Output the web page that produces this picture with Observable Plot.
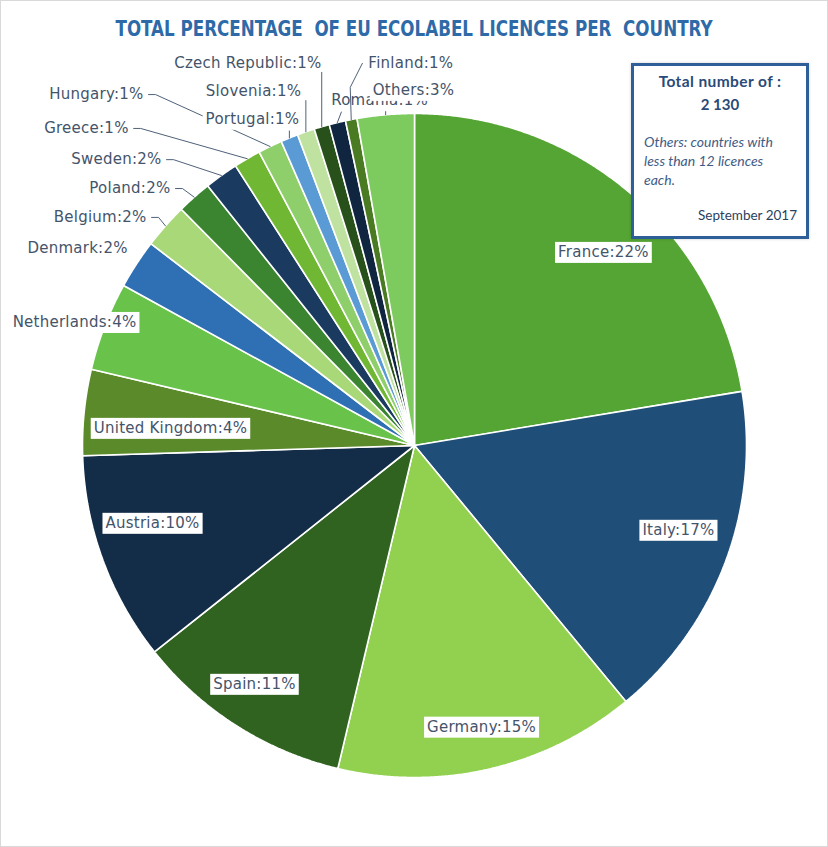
<!DOCTYPE html>
<html>
<head>
<meta charset="utf-8">
<script src="https://cdn.jsdelivr.net/npm/d3@7"></script>
<script src="https://cdn.jsdelivr.net/npm/@observablehq/plot@0.6"></script>
<style>
  body { margin: 0; background: #fff; }
  #wrap { position: relative; width: 828px; height: 847px; overflow: hidden; }
  #chart { position: absolute; left: 0; top: 0; }
  #frame { position: absolute; left: 0; top: 0; width: 826px; height: 845px; border: 1px solid #d9d9d9; pointer-events: none; }
  #title { position: absolute; left: 0; top: 14px; width: 828px; text-align: center; white-space: pre;
           font: bold 21px "Liberation Sans Narrow", "DejaVu Sans Condensed", sans-serif; color: #2e6aa8; line-height: 30px;
           transform: scaleX(0.885); transform-origin: 414px 50%; }
  #note { position: absolute; left: 631px; top: 63px; width: 172px; height: 170px; border: 3px solid #2f5f98;
          background: #fff; box-shadow: 0 0 3px rgba(0,0,0,0.18); font-family: Lato, "Open Sans", sans-serif; }
  #note .t1 { position: absolute; left: 0; top: 5px; width: 100%; text-align: center; font-weight: bold; font-size: 15.5px; letter-spacing: 0.4px; color: #2b4a78; line-height: 20px; }
  #note .t2 { position: absolute; left: 0; top: 28px; width: 100%; text-align: center; font-weight: bold; font-size: 15px; color: #2b4a78; line-height: 20px; }
  #note .it { position: absolute; left: 10px; top: 66px; width: 162px; font-style: italic; font-size: 14px; color: #3f5c85; line-height: 19px; }
  #note .dt { position: absolute; right: 9px; top: 140px; font-size: 13.5px; color: #2b3f5e; line-height: 18px; }
</style>
</head>
<body>
<div id="wrap">
  <div id="chart"></div>
  <div id="title">TOTAL PERCENTAGE  OF EU ECOLABEL LICENCES PER  COUNTRY</div>
  <div id="note">
    <div class="t1">Total number of :</div>
    <div class="t2">2 130</div>
    <div class="it">Others: countries with<br>less than 12 licences<br>each.</div>
    <div class="dt">September 2017</div>
  </div>
  <div id="frame"></div>
</div>
<script>
// ---- data ----
const countries = ["France", "Italy", "Germany", "Spain", "Austria", "United Kingdom", "Netherlands", "Denmark",
  "Belgium", "Poland", "Sweden", "Greece", "Hungary", "Portugal", "Slovenia", "Czech Republic", "Romania", "Finland", "Others"];
const licences = [477, 354, 313, 226, 217, 89, 92, 51, 47, 36, 35, 28, 25, 18, 18, 16, 17, 12, 59];
const totalLicences = 2130;

// ---- styles ----
const sliceColors = ["#55a534", "#1f4e79", "#92d050", "#30631f", "#132c47", "#5a8a2a", "#69c34b", "#2e70b3",
  "#a8d878", "#3b8530", "#1a3a60", "#70b834", "#8fcf6b", "#5b9bd5", "#bfe2a0", "#27501a", "#0f2540", "#4a7a22", "#7dcb5f"];

// label layout, in pie-radius units (pie centre = 0,0)
const labelLayout = {
  "France":         {at: [0.569, 0.581],  anchor: "middle", boxed: true},
  "Italy":          {at: [0.795, -0.256], anchor: "middle", boxed: true},
  "Germany":        {at: [0.202, -0.849], anchor: "middle", boxed: true},
  "Spain":          {at: [-0.482, -0.720], anchor: "middle", boxed: true},
  "Austria":        {at: [-0.789, -0.235], anchor: "middle", boxed: true},
  "United Kingdom": {at: [-0.735, 0.051], anchor: "middle", boxed: true},
  "Netherlands":    {at: [-1.024, 0.370], anchor: "middle", boxed: true},
  "Denmark":        {at: [-1.015, 0.593], anchor: "middle"},
  "Belgium":        {at: [-0.807, 0.687], anchor: "end", leader: "side"},
  "Poland":         {at: [-0.735, 0.774], anchor: "end", leader: "side"},
  "Sweden":         {at: [-0.762, 0.861], anchor: "end", leader: "side"},
  "Greece":         {at: [-0.861, 0.955], anchor: "end", leader: "side"},
  "Hungary":        {at: [-0.816, 1.057], anchor: "end", leader: "side"},
  "Portugal":       {at: [-0.488, 0.982], anchor: "middle", boxed: true, leader: "down", gap: 11.5, dx: 0},
  "Slovenia":       {at: [-0.485, 1.066], anchor: "middle", leader: "down", gap: 9, dx: 0},
  "Czech Republic": {at: [-0.502, 1.151], anchor: "middle", leader: "down", gap: 9, dx: 0},
  "Romania":        {at: [-0.105, 1.039], anchor: "middle", leader: "down", gap: 11.5, dx: 4},
  "Finland":        {at: [-0.139, 1.151], anchor: "start", leader: "hook"},
  "Others":         {at: [-0.003, 1.069], anchor: "middle", boxed: true, leader: "down", gap: 21, dx: 0}
};

// ---- geometry ----
const W = 828, H = 847, mL = 82, mR = 82, mT = 113, mB = 70;
const px = 2 / (W - mL - mR); // one pixel in radius units

const arcs = d3.pie().sort(null).value(d => d)(licences);
const slicePts = [];
arcs.forEach((a, i) => {
  const c = countries[i];
  slicePts.push({country: c, x: 0, y: 0});
  const n = Math.max(2, Math.ceil((a.endAngle - a.startAngle) / 0.005));
  for (let k = 0; k <= n; k++) {
    const t = a.startAngle + (a.endAngle - a.startAngle) * k / n;
    slicePts.push({country: c, x: Math.sin(t), y: Math.cos(t)});
  }
  slicePts.push({country: c, x: 0, y: 0});
});

const labels = countries.map((c, i) => {
  const L = labelLayout[c];
  return {country: c, x: L.at[0], y: L.at[1], anchor: L.anchor, boxed: !!L.boxed,
          text: c + ":" + Math.round(licences[i] / totalLicences * 100) + "%"};
});

const leaderPts = [];
arcs.forEach((a, i) => {
  const c = countries[i], L = labelLayout[c];
  if (!L.leader) return;
  const mid = (a.startAngle + a.endAngle) / 2;
  const ax = Math.sin(mid), ay = Math.cos(mid);
  const [lx, ly] = L.at;
  let pts;
  if (L.leader === "side") {
    pts = [[lx + 5 * px, ly], [lx + 12 * px, ly], [ax, ay]];
  } else if (L.leader === "down") {
    pts = [[ax + L.dx * px, ly - L.gap * px], [ax, ay]];
  } else { // hook
    pts = [[lx - 6 * px, ly], [ax - 1 * px, ly - 24 * px], [ax, ay]];
  }
  pts.forEach(([x, y]) => leaderPts.push({country: c, x, y}));
});

const textStyle = {fill: "#44546a", fontSize: 15, fontFamily: "DejaVu Sans, Verdana, sans-serif"};

const svg = Plot.plot({
  width: W, height: H,
  marginLeft: mL, marginRight: mR, marginTop: mT, marginBottom: mB,
  x: {domain: [-1, 1], axis: null},
  y: {domain: [-1, 1], axis: null},
  color: {domain: countries, range: sliceColors},
  style: {background: "white", letterSpacing: "0.25px"},
  marks: [
    Plot.line(slicePts, {x: "x", y: "y", z: "country", fill: "country", stroke: "white", strokeWidth: 1.6, curve: "linear", strokeLinejoin: "miter"}),
    Plot.line(leaderPts, {x: "x", y: "y", z: "country", stroke: "#4f6179", strokeWidth: 1}),
    Plot.text(labels.filter(d => !d.boxed && d.anchor === "end"), {x: "x", y: "y", text: "text", textAnchor: "end", ...textStyle}),
    Plot.text(labels.filter(d => !d.boxed && d.anchor === "middle"), {x: "x", y: "y", text: "text", textAnchor: "middle", ...textStyle}),
    Plot.text(labels.filter(d => !d.boxed && d.anchor === "start"), {x: "x", y: "y", text: "text", textAnchor: "start", ...textStyle}),
    Plot.text(labels.filter(d => d.boxed), {x: "x", y: "y", text: "text", textAnchor: "middle", ...textStyle})
  ]
});

document.getElementById("chart").appendChild(svg);

// white boxes behind boxed labels
const boxedTexts = new Set(labels.filter(d => d.boxed).map(d => d.text));
svg.querySelectorAll("text").forEach(t => {
  if (!boxedTexts.has(t.textContent)) return;
  const bb = t.getBBox();
  const r = document.createElementNS("http://www.w3.org/2000/svg", "rect");
  r.setAttribute("x", bb.x - 3);
  r.setAttribute("y", bb.y - 1.5);
  r.setAttribute("width", bb.width + 6);
  r.setAttribute("height", bb.height + 3);
  r.setAttribute("fill", "white");
  r.setAttribute("stroke", "none");
  const tr = t.getAttribute("transform");
  if (tr) r.setAttribute("transform", tr);
  t.parentNode.insertBefore(r, t);
});
</script>
</body>
</html>
